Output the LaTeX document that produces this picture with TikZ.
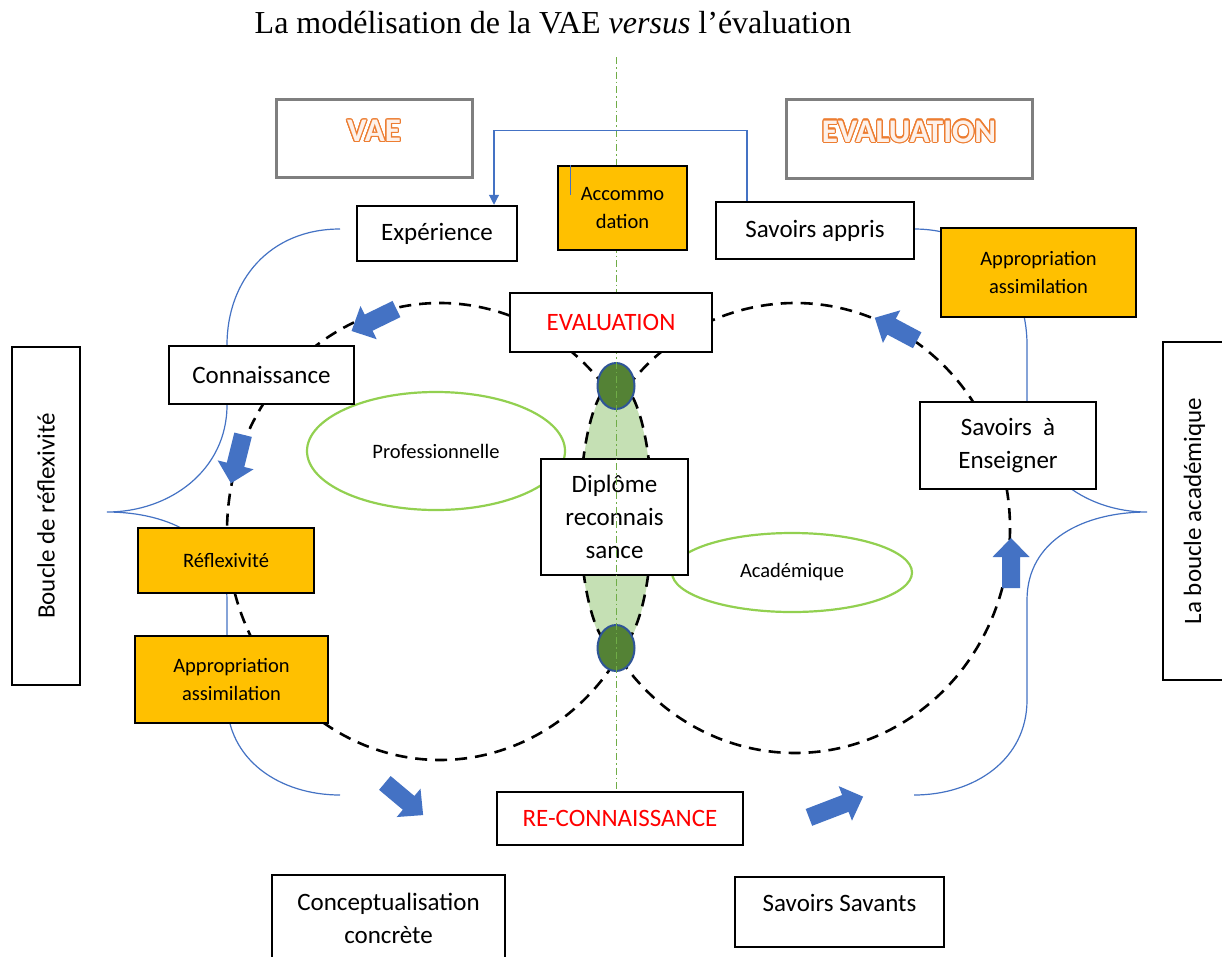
\documentclass[tikz,border=0pt]{standalone}
\usepackage{fontspec}
\setmainfont{Carlito}
\newfontfamily\titlefont{Liberation Serif}
\usepackage{contour}
\usetikzlibrary{shapes.geometric,arrows.meta}
\definecolor{boxorange}{HTML}{FFC000}
\definecolor{arrowblue}{HTML}{4472C4}
\definecolor{linkblue}{HTML}{4472C4}
\definecolor{headgray}{HTML}{7F7F7F}
\definecolor{headorange}{HTML}{ED7D31}
\definecolor{headfill}{HTML}{FDF1EA}
\definecolor{dotgreen}{HTML}{548235}
\definecolor{dotblue}{HTML}{2F5597}
\definecolor{lensgreen}{HTML}{C5E0B4}
\definecolor{ringgreen}{HTML}{92D050}
\definecolor{axisgreen}{HTML}{70AD47}
\contourlength{1.2pt}
\tikzset{
  box/.style={draw, line width=2.5pt, fill=white, align=center, inner sep=0pt, font=\fontsize{25}{33}\selectfont},
  goldbox/.style={box, fill=boxorange, font=\fontsize{20.5}{28}\selectfont},
  thinbox/.style={box, line width=1.2pt},
  headbox/.style={box, draw=headgray, line width=3pt, font=\fontsize{33}{36}\bfseries\selectfont, text height=24pt, text depth=17pt},
  ring/.style={ellipse, draw=ringgreen, line width=2.2pt, inner sep=0pt, font=\fontsize{20.5}{24}\selectfont},
  joint/.style={ellipse, draw=dotblue, line width=2pt, fill=dotgreen, minimum width=37pt, minimum height=46pt, inner sep=0pt},
  loopline/.style={dash pattern=on 12pt off 8pt, line width=2.6pt},
  bluecurve/.style={draw=linkblue, line width=1.2pt},
  fatarrow/.pic={\fill[arrowblue] (-#1/2,-9) -- (#1/2-19,-9) -- (#1/2-19,-18.5) -- (#1/2,0) -- (#1/2-19,18.5) -- (#1/2-19,9) -- (-#1/2,9) -- cycle;},
  loopbrace/.pic={\draw[bluecurve] (340,229) .. controls (270,229) and (227,280) .. (227,345) -- (227,405) .. controls (227,470) and (170,512) .. (107,512) .. controls (170,512) and (227,540) .. (227,600) -- (227,700) .. controls (227,760) and (280,795) .. (340,795);}
}
\begin{document}
\begin{tikzpicture}[x=1pt, y=-1pt]
\useasboundingbox (0,0) rectangle (1222,956);
\fill[white] (0,0) rectangle (1222,956);
\node[font=\titlefont\fontsize{32}{34}\selectfont, anchor=base] (title) at (553,33) {La modélisation de la VAE \textit{versus} l’évaluation};

\fill[lensgreen] (616,517) ellipse [x radius=36pt, y radius=133pt];
\pic at (0,0) {loopbrace};
\pic[xscale=-1] at (1254,0) {loopbrace};
\draw[loopline] (440,531.5) ++(34.3:213pt and 228.5pt) arc[start angle=34.3, end angle=325.7, x radius=213pt, y radius=228.5pt]
  -- (616,648) arc[start angle=-90, end angle=90, x radius=36pt, y radius=133pt] -- cycle;
\draw[loopline] (795,528) ++(146.4:215pt and 225pt) arc[start angle=146.4, end angle=-146.4, x radius=215pt, y radius=225pt]
  -- (616,648) arc[start angle=270, end angle=90, x radius=36pt, y radius=133pt] -- cycle;

\node[ring, minimum width=258pt, minimum height=118pt] (prof) at (436,451) {Professionnelle};
\node[ring, minimum width=240pt, minimum height=79pt] (acad) at (792,572.5) {Académique};
\node[joint] (topjoint) at (616,386) {};
\node[joint] (botjoint) at (616,648) {};
\node[box, minimum width=147pt, minimum height=116pt] (diplome) at (614.5,517) {Diplôme\\reconnais\\sance};
\draw[axisgreen, line width=1pt, dash pattern=on 7pt off 3pt on 1.5pt off 3pt] (616,57) -- (616,792);

\node[headbox, minimum width=196pt, minimum height=78pt] (vaehead) at (374,138) {\contour{headorange}{\textcolor{headfill}{VAE}}};
\node[headbox, minimum width=246pt, minimum height=79pt] (evalhead) at (909,138.5) {\contour{headorange}{\textcolor{headfill}{EVALUATION}}};
\node[box, minimum width=160pt, minimum height=55pt] (exper) at (437,233.5) {Expérience};
\node[goldbox, minimum width=129pt, minimum height=84pt] (accom) at (622.5,208) {Accommo\\dation};
\node[box, minimum width=198pt, minimum height=57pt] (sapp) at (815,230.5) {Savoirs appris};
\node[goldbox, minimum width=195pt, minimum height=89pt] (approR) at (1038.5,272.5) {Appropriation\\assimilation};
\node[thinbox, text=red, minimum width=202pt, minimum height=59pt] (evalred) at (611,322.5) {EVALUATION};
\node[box, minimum width=185pt, minimum height=58pt] (conn) at (261.5,375) {Connaissance};
\node[box, minimum width=176pt, minimum height=87pt] (sens) at (1008,445.5) {Savoirs~ à\\Enseigner};
\node[goldbox, minimum width=176pt, minimum height=65pt] (reflex) at (226,560.5) {Réflexivité};
\node[goldbox, minimum width=193pt, minimum height=87pt] (approL) at (231.5,679.5) {Appropriation\\assimilation};
\node[thinbox, text=red, minimum width=246pt, minimum height=53pt] (reco) at (620,818.5) {RE-CONNAISSANCE};
\node[box, minimum width=233pt, minimum height=87pt] (concept) at (388.5,918.5) {Conceptualisation\\concrète};
\node[box, minimum width=209pt, minimum height=70pt, text height=18pt, text depth=20pt] (ssav) at (839.5,912) {Savoirs Savants};
\node[thinbox, rotate=90, minimum width=338pt, minimum height=68pt] (boucleL) at (46,516) {Boucle de réflexivité};
\node[thinbox, rotate=90, minimum width=338pt, minimum height=63pt] (boucleR) at (1194.5,511) {La boucle académique};

\draw[bluecurve, -{Triangle[width=10pt,length=10pt]}] ([xshift=-68pt]sapp.north) -- ++(0,-70) -| ([xshift=57pt]exper.north);
\draw[bluecurve] ([xshift=14pt]accom.north west) -- ++(0,30);

\foreach \ang/\px/\py/\len in {206/374/320/50, 256/237/459/50, 320/404/799/50, 21/836/807/58, 90/1011/563/50, 152/896/329/48}
  \pic[rotate=\ang] at (\px,\py) {fatarrow=\len};
\end{tikzpicture}
\end{document}
